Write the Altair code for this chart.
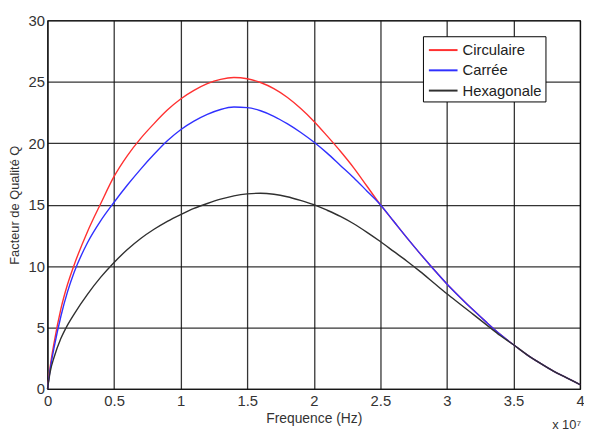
import altair as alt
import pandas as pd

freq = [0, 0.02, 0.05, 0.1, 0.15, 0.2, 0.3, 0.4, 0.5, 0.6, 0.7, 0.8, 0.9, 1.0, 1.1, 1.2,
        1.3, 1.4, 1.5, 1.6, 1.7, 1.8, 1.9, 2.0, 2.1, 2.2, 2.3, 2.4, 2.5, 2.6, 2.7, 2.8,
        2.9, 3.0, 3.1, 3.2, 3.3, 3.4, 3.5, 3.6, 3.7, 3.8, 3.9, 4.0]

circulaire = [0, 1.8, 3.8, 6.5, 8.5, 10.1, 12.8, 15.1, 17.3, 19.0, 20.4, 21.6, 22.7, 23.6,
              24.3, 24.85, 25.2, 25.35, 25.25, 24.95, 24.45, 23.75, 22.85, 21.8, 20.6,
              19.35, 18.0, 16.5, 15.0, 13.65, 12.3, 11.0, 9.75, 8.55, 7.45, 6.4, 5.4,
              4.45, 3.6, 2.8, 2.1, 1.45, 0.9, 0.35]

carree = [0, 1.6, 3.4, 5.9, 7.9, 9.5, 11.9, 13.7, 15.2, 16.6, 17.9, 19.1, 20.2, 21.1,
          21.8, 22.35, 22.75, 22.95, 22.9, 22.65, 22.2, 21.6, 20.9, 20.1, 19.2, 18.2,
          17.2, 16.1, 15.0, 13.65, 12.3, 11.0, 9.75, 8.55, 7.45, 6.4, 5.4, 4.45, 3.6,
          2.8, 2.1, 1.45, 0.9, 0.35]

hexagonale = [0, 1.4, 2.6, 4.1, 5.2, 6.1, 7.7, 9.1, 10.3, 11.35, 12.25, 13.0, 13.65, 14.2,
              14.7, 15.1, 15.45, 15.72, 15.88, 15.93, 15.85, 15.65, 15.35, 15.0, 14.55,
              14.05, 13.45, 12.75, 12.0, 11.2, 10.4, 9.55, 8.65, 7.75, 6.9, 6.05, 5.2,
              4.35, 3.6, 2.8, 2.1, 1.45, 0.9, 0.35]

series = ["Circulaire", "Carrée", "Hexagonale"]
colors = ["#ff3030", "#3030ff", "#303030"]
x_ticks = [0, 0.5, 1, 1.5, 2, 2.5, 3, 3.5, 4]
y_ticks = [0, 5, 10, 15, 20, 25, 30]

rows = []
for name, vals in zip(series, [circulaire, carree, hexagonale]):
    for f, q in zip(freq, vals):
        rows.append({"f": f, "q": q, "forme": name})
df = pd.DataFrame(rows)

W, H = 539, 373
FONT = "Liberation Sans"

lines = alt.Chart(df).mark_line(strokeWidth=1.4, interpolate="monotone").encode(
    x=alt.X("f:Q", scale=alt.Scale(domain=[0, 4], nice=False),
            axis=alt.Axis(values=x_ticks, format="~g", title="Frequence (Hz)",
                          titlePadding=3, labelPadding=5, labelFlush=False,
                          titleFontSize=14)),
    y=alt.Y("q:Q", scale=alt.Scale(domain=[0, 30], nice=False),
            axis=alt.Axis(values=y_ticks, title="Facteur de  Qualité Q",
                          titlePadding=7, labelPadding=3, labelFlush=False,
                          titleFontSize=13)),
    color=alt.Color("forme:N", scale=alt.Scale(domain=series, range=colors),
                    legend=alt.Legend(title=None, orient="none", legendX=380, legendY=16,
                                      symbolType="M-0.8,0H2.1", symbolSize=400,
                                      symbolStrokeWidth=2, labelFontSize=15,
                                      labelFont=FONT, labelColor="#222",
                                      fillColor="white", strokeColor="black",
                                      padding=3, rowPadding=1.5, labelOffset=15)),
)

note = alt.Chart(pd.DataFrame({"t": ["x 10⁷"]})).mark_text(
    align="right", baseline="middle", fontSize=13, font=FONT, color="#333"
).encode(x=alt.value(W + 1), y=alt.value(H + 37), text="t:N")

chart = alt.layer(lines, note).properties(
    width=W, height=H,
    autosize=alt.AutoSizeParams(type="none"),
    padding={"left": 40, "top": 10, "right": 4, "bottom": 44},
).configure_view(stroke="black", strokeWidth=1.2).configure_axis(
    grid=True, gridColor="#111", gridWidth=1.3, gridOpacity=0.85,
    domain=False, ticks=False,
    labelFont=FONT, labelFontSize=15, labelColor="#333",
    titleFont=FONT, titleColor="#333", titleFontWeight="normal",
)

chart.save("out.html", embed_options={"renderer": "svg", "actions": False})
